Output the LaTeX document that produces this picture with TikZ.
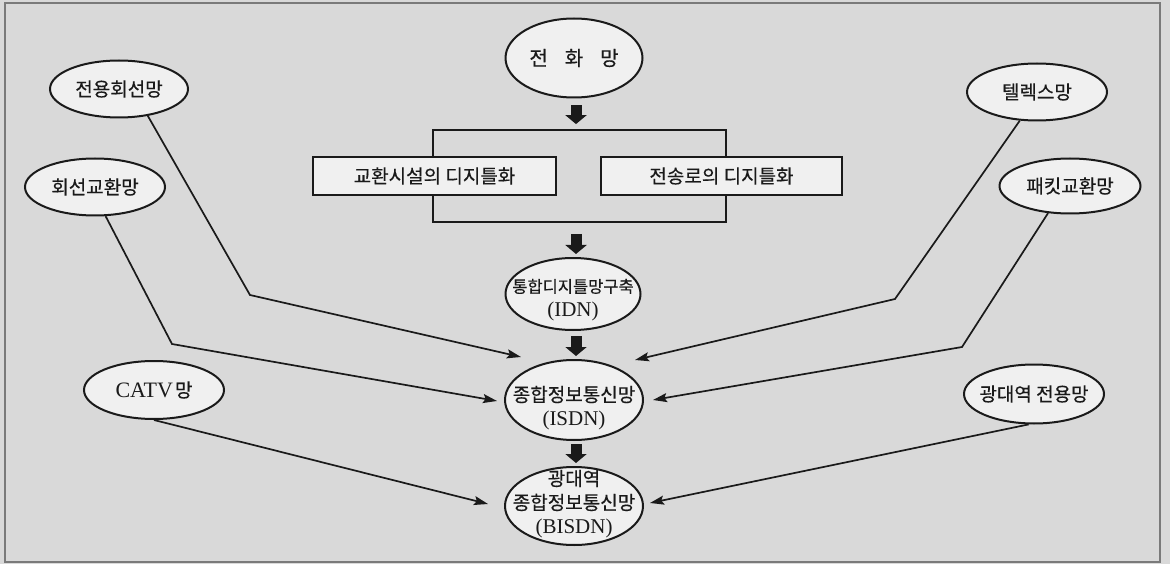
\documentclass[tikz,border=0pt]{standalone}
\usepackage{fontspec}
\setmainfont{Liberation Serif}
\newfontfamily\kr[FakeBold=0.4]{Noto Sans CJK KR}
\usetikzlibrary{arrows.meta,shapes.geometric,calc}
\definecolor{paper}{HTML}{D9D9D9}
\definecolor{fillw}{HTML}{F0F0F0}
\definecolor{ink}{HTML}{1A1A1A}
\definecolor{framec}{HTML}{7A7A7A}
\begin{document}
\begin{tikzpicture}[x=1pt,y=-1pt,
  ell/.style={ellipse,draw=ink,line width=2pt,fill=fillw,inner sep=0pt},
  boxn/.style={rectangle,draw=ink,line width=1.8pt,fill=fillw,inner sep=0pt,minimum height=38pt},
  link/.style={draw=ink,line width=1.7pt,line join=miter,-{Stealth[length=14pt,width=9pt,inset=2.5pt]}},
  bigarrow/.style={draw=ink,line width=11pt,-{Triangle[length=9pt,width=21pt]}},
  kt/.style={font=\kr\fontsize{19}{24}\selectfont,align=center,text=ink,inner sep=0pt},
]
\useasboundingbox (0,0) rectangle (1170,564);
\fill[paper] (0,0) rectangle (1170,564);
\draw[framec,line width=1.3pt] (5,3) rectangle (1160,562);

% central column
\node[ell,minimum width=137pt,minimum height=79pt,
      label={[kt]center:{\fontsize{20}{24}\selectfont 전\hspace{17pt}화\hspace{17pt}망}}] (phone) at (574,58) {};
\node[draw=ink,line width=1.8pt,minimum width=293pt,minimum height=92pt,inner sep=0pt] (bigbox) at (579.5,176) {};
\node[boxn,minimum width=243pt,kt] (swbox) at (434.5,176) {교환시설의 디지틀화};
\node[boxn,minimum width=241pt,kt] (trbox) at (721.5,176) {전송로의 디지틀화};
\node[ell,minimum width=135pt,minimum height=72pt,
      label={[kt,yshift=-6pt]center:{\fontsize{16.5}{24}\selectfont 통합디지틀망구축}\\{\rmfamily\fontsize{21}{24}\selectfont (IDN)}}] (idn) at (573,294) {};
\node[ell,minimum width=138pt,minimum height=80pt,
      label={[kt,yshift=-8pt]center:종합정보통신망\\{\rmfamily\fontsize{21}{24}\selectfont (ISDN)}}] (isdn) at (574,400) {};
\node[ell,minimum width=138pt,minimum height=78pt,
      label={[kt,yshift=2pt]center:광대역\\종합정보통신망\\{\rmfamily\fontsize{21}{24}\selectfont (BISDN)}}] (bisdn) at (574,506) {};

% outer networks
\node[ell,minimum width=138pt,minimum height=57pt,label={[kt]center:전용회선망}] (n1) at (119,89) {};
\node[ell,minimum width=140pt,minimum height=57pt,label={[kt]center:회선교환망}] (n2) at (95,187) {};
\node[ell,minimum width=140pt,minimum height=58pt,
      label={[kt]center:{\rmfamily\fontsize{22}{24}\selectfont CATV}\hspace{2pt}망}] (n3) at (154,390) {};
\node[ell,minimum width=140pt,minimum height=57pt,label={[kt]center:텔렉스망}] (n4) at (1037,92) {};
\node[ell,minimum width=141pt,minimum height=55pt,label={[kt]center:패킷교환망}] (n5) at (1070,186) {};
\node[ell,minimum width=140pt,minimum height=59pt,label={[kt]center:광대역 전용망}] (n6) at (1034,394) {};

% thick flow arrows
\draw[bigarrow] ($(phone.south)+(2,7)$) -- ($(bigbox.north)+(-3.5,-5)$);
\draw[bigarrow] ($(bigbox.south)+(-3.5,11)$) -- ($(idn.north)+(3,-3)$);
\draw[bigarrow] ($(idn.south)+(3,5)$) -- ($(isdn.north)+(2,-3)$);
\draw[bigarrow] ($(isdn.south)+(2,3)$) -- ($(bisdn.north)+(2,-3)$);

% bends and free ends
\coordinate (b1) at (250,295);
\coordinate (b2) at (172,344);
\coordinate (b4) at (895,299);
\coordinate (b5) at (962,347);
\coordinate (t1) at ($(isdn)+(-53,-43)$);
\coordinate (t2) at ($(isdn)+(-77,1)$);
\coordinate (t3) at ($(bisdn)+(-86,-2)$);
\coordinate (t4) at ($(isdn)+(61,-40)$);
\coordinate (t5) at ($(isdn)+(79,0)$);
\coordinate (t6) at ($(bisdn)+(76,-3)$);

\draw[link] (n1.-43) -- (b1) -- (t1);
\draw[link] (n2.-70) -- (b2) -- (t2);
\draw[link] (n3.south) -- (t3);
\draw[link] (n4.-121) -- (b4) -- (t4);
\draw[link] (n5.-129) -- (b5) -- (t5);
\draw[link] (n6.-100) -- (t6);
\end{tikzpicture}
\end{document}
